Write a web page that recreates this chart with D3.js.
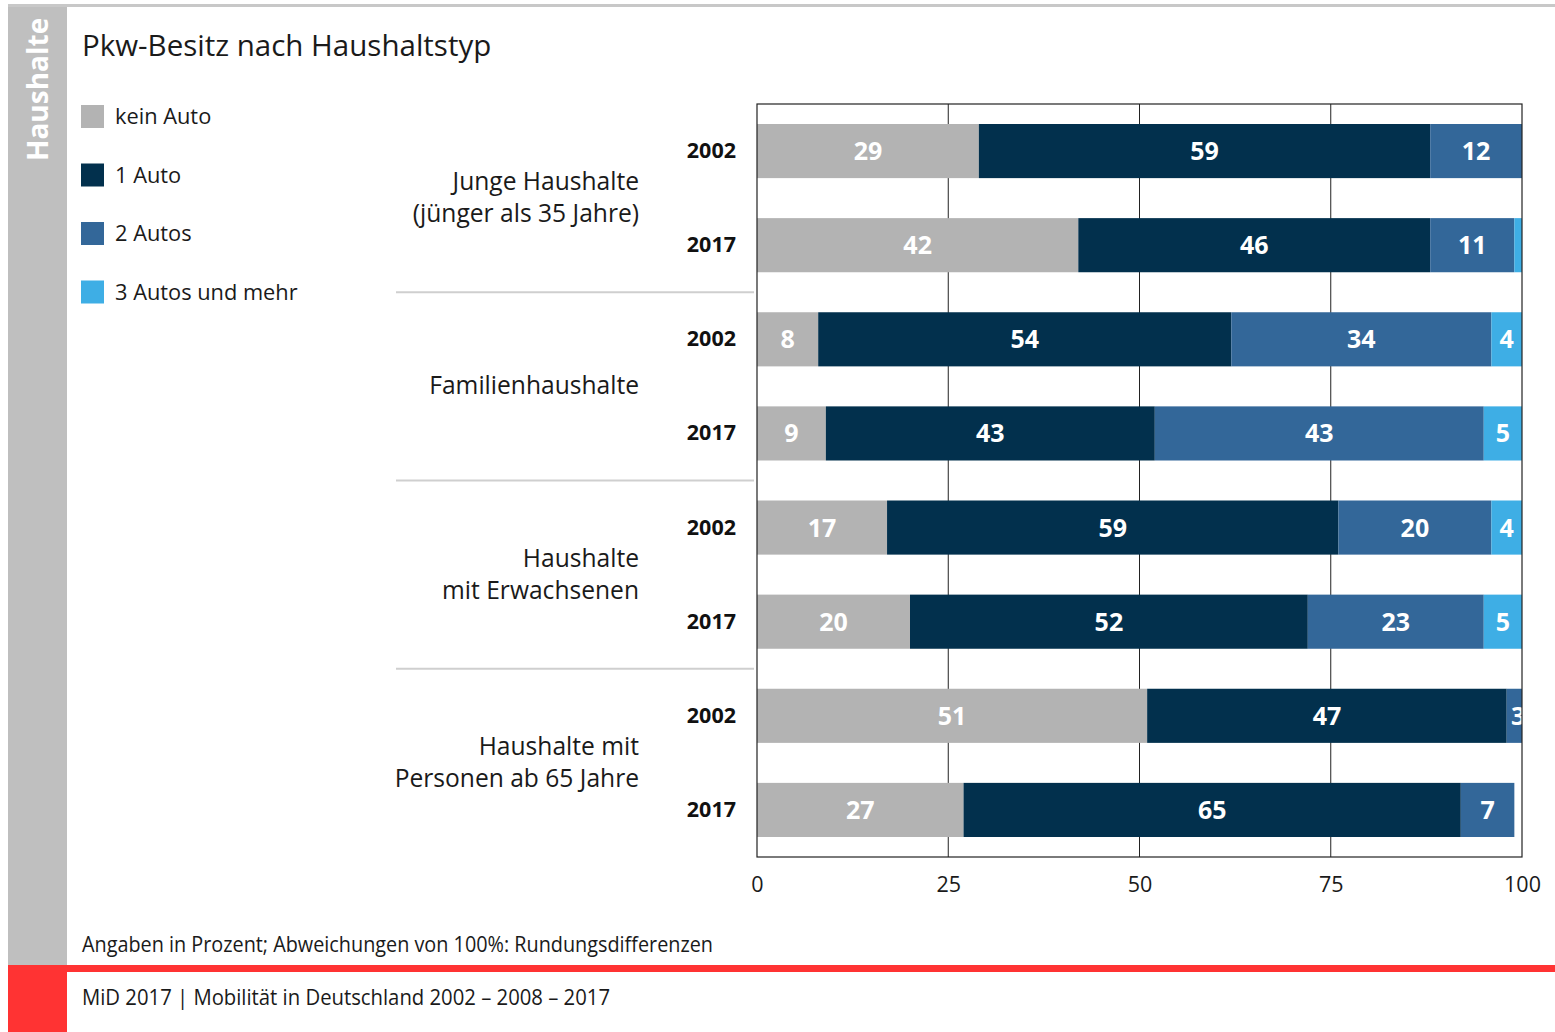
<!DOCTYPE html>
<html><head><meta charset="utf-8">
<script src="https://cdn.jsdelivr.net/npm/d3@7"></script>
<style>
html,body{margin:0;padding:0;background:#fff;}
svg{display:block;}
text{font-family:"Open Sans","Noto Sans",sans-serif;}
</style></head><body>
<script>
const groups = ["Junge Haushalte|(jünger als 35 Jahre)", "Familienhaushalte", "Haushalte|mit Erwachsenen", "Haushalte mit|Personen ab 65 Jahre"];
const years = ["2002", "2017"];
const series = ["kein Auto", "1 Auto", "2 Autos", "3 Autos und mehr"];
const colors = ["#b3b3b3", "#02304d", "#336799", "#3eaee5"];
const keinAuto = [29, 42, 8, 9, 17, 20, 51, 27];
const einAuto  = [59, 46, 54, 43, 59, 52, 47, 65];
const zweiAutos = [12, 11, 34, 43, 20, 23, 3, 7];
const dreiAutos = [0, 1, 4, 5, 4, 5, 0, 0];
const ticks = [0, 25, 50, 75, 100];

const W = 1555, H = 1032;
const svg = d3.select("body").append("svg").attr("width", W).attr("height", H);

// frame
svg.append("rect").attr("x", 8).attr("y", 4).attr("width", W - 8).attr("height", 3).attr("fill", "#c8c8c8");
svg.append("rect").attr("x", 8).attr("y", 7).attr("width", 59).attr("height", 958).attr("fill", "#bfbfbf");
svg.append("rect").attr("x", 8).attr("y", 965).attr("width", W - 8).attr("height", 7).attr("fill", "#ff3333");
svg.append("rect").attr("x", 8).attr("y", 965).attr("width", 59).attr("height", 67).attr("fill", "#ff3333");
svg.append("text").attr("transform", "translate(48,161) rotate(-90)")
  .attr("fill", "#fff").attr("font-size", 28).attr("font-weight", "bold").text("Haushalte");

svg.append("text").attr("x", 82).attr("y", 56).attr("font-size", 29.5).attr("fill", "#1a1a1a").text("Pkw-Besitz nach Haushaltstyp");

// legend
const lg = svg.append("g");
series.forEach((s, i) => {
  const y = 105 + i * 58.5;
  lg.append("rect").attr("x", 81).attr("y", y).attr("width", 23).attr("height", 23).attr("fill", colors[i]);
  lg.append("text").attr("x", 115).attr("y", y + 19).attr("font-size", 21.8).attr("fill", "#1a1a1a").text(s);
});

// plot
const x0 = 757, x1 = 1522, y0 = 104, y1 = 857;
const rows = [];
groups.forEach((g, gi) => years.forEach((yr, yi) => rows.push(gi + "-" + yr)));
const x = d3.scaleLinear().domain([0, 100]).range([x0, x1]);
const y = d3.scaleBand().domain(rows).range([y0, y1]).paddingInner(0.425).paddingOuter(0.2125);

const data = rows.map((r, i) => ({ key: r, vals: [keinAuto[i], einAuto[i], zweiAutos[i], dreiAutos[i]] }));

svg.append("clipPath").attr("id", "clip").append("rect").attr("x", x0).attr("y", y0).attr("width", x1 - x0).attr("height", y1 - y0);

// gridlines
svg.append("g").selectAll("line").data([25, 50, 75]).join("line")
  .attr("x1", d => x(d)).attr("x2", d => x(d)).attr("y1", y0).attr("y2", y1)
  .attr("stroke", "#222").attr("stroke-width", 1);

const plot = svg.append("g").attr("clip-path", "url(#clip)");
data.forEach(d => {
  let acc = 0;
  d.vals.forEach((v, si) => {
    const start = acc; acc += v;
    if (v <= 0) return;
    plot.append("rect").attr("x", x(start)).attr("y", y(d.key)).attr("width", x(start + v) - x(start))
      .attr("height", y.bandwidth()).attr("fill", colors[si]);
    if (v >= 3) {
      plot.append("text").attr("x", (x(start) + x(start + v)) / 2).attr("y", y(d.key) + y.bandwidth() / 2 + 9)
        .attr("text-anchor", "middle").attr("font-size", 25).attr("font-weight", "bold").attr("fill", "#fff").text(v);
    }
  });
});

// border
svg.append("rect").attr("x", x0).attr("y", y0).attr("width", x1 - x0).attr("height", y1 - y0)
  .attr("fill", "none").attr("stroke", "#222").attr("stroke-width", 1.2);

// x axis
const xa = svg.append("g").attr("transform", `translate(0,${y1})`).call(d3.axisBottom(x).tickValues(ticks).tickSize(0).tickPadding(20));
xa.select(".domain").remove();
xa.selectAll("text").attr("font-size", 21.5).attr("fill", "#1a1a1a").attr("font-family", "Open Sans, sans-serif");

// year labels
data.forEach((d, i) => {
  svg.append("text").attr("x", 736).attr("y", y(d.key) + y.bandwidth() / 2 + 7)
    .attr("text-anchor", "end").attr("font-size", 21.5).attr("font-weight", "bold").attr("fill", "#111").text(years[i % 2]);
});

// group labels & separators
groups.forEach((g, gi) => {
  const a = y(gi + "-2002"), b = y(gi + "-2017") + y.bandwidth();
  const c = (a + b) / 2;
  const lines = g.split("|");
  lines.forEach((l, li) => {
    svg.append("text").attr("x", 639).attr("y", c + 8 + (li - (lines.length - 1) / 2) * 32)
      .attr("text-anchor", "end").attr("font-size", 24.6).attr("fill", "#1a1a1a").text(l);
  });
  if (gi > 0) {
    const sep = (y((gi - 1) + "-2017") + y.bandwidth() + y(gi + "-2002")) / 2;
    svg.append("line").attr("x1", 396).attr("x2", 754).attr("y1", sep).attr("y2", sep).attr("stroke", "#cfcfcf").attr("stroke-width", 2);
  }
});

svg.append("text").attr("x", 82).attr("y", 952).attr("font-size", 21).attr("fill", "#1a1a1a")
  .attr("textLength", 631).attr("lengthAdjust", "spacingAndGlyphs")
  .text("Angaben in Prozent; Abweichungen von 100%: Rundungsdifferenzen");
svg.append("text").attr("x", 82).attr("y", 1005).attr("font-size", 21).attr("fill", "#1a1a1a")
  .attr("textLength", 528).attr("lengthAdjust", "spacingAndGlyphs")
  .text("MiD 2017  |  Mobilität in Deutschland 2002 – 2008 – 2017");
</script>
</body></html>
